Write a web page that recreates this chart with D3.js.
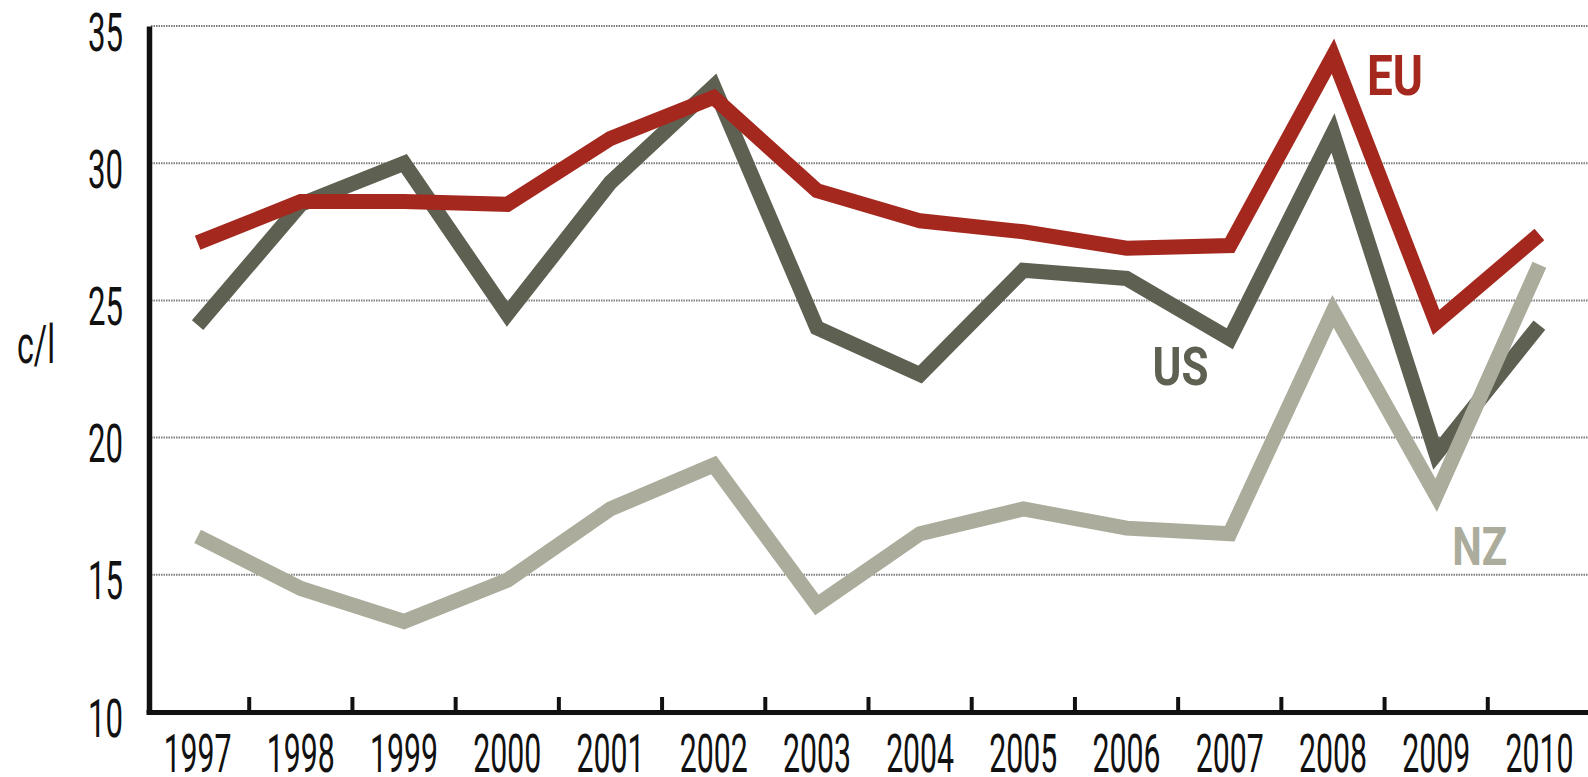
<!DOCTYPE html>
<html>
<head>
<meta charset="utf-8">
<script src="https://cdn.jsdelivr.net/npm/d3@7"></script>
<style>
  body { margin: 0; background: #fff; }
  text { font-family: Roboto, "Liberation Sans", sans-serif; }
</style>
</head>
<body>
<div id="chart"></div>
<script>
// data (c/l)
const years = [1997, 1998, 1999, 2000, 2001, 2002, 2003, 2004, 2005, 2006, 2007, 2008, 2009, 2010];
const euValues = [27.1, 28.6, 28.6, 28.5, 30.9, 32.4, 29.0, 27.9, 27.5, 26.9, 27.0, 33.9, 24.2, 27.4];
const usValues = [24.1, 28.5, 30.0, 24.5, 29.3, 32.8, 24.0, 22.3, 26.1, 25.8, 23.6, 31.1, 19.4, 24.1];
const nzValues = [16.4, 14.5, 13.3, 14.8, 17.4, 19.0, 13.9, 16.5, 17.4, 16.7, 16.5, 24.6, 17.9, 26.3];
const yTicks = [10, 15, 20, 25, 30, 35];

const width = 1588, height = 777;
const margin = {top: 26, right: -3, bottom: 65, left: 146};

const svg = d3.select("#chart")
  .append("svg")
  .attr("width", width)
  .attr("height", height);

// squeeze a text horizontally to a given width (the original uses a condensed face)
function squeeze(sel, w, tx) {
  sel.each(function() {
    const t = d3.select(this);
    const natural = this.getComputedTextLength();
    const sx = natural > 0 ? w / natural : 1;
    t.attr("transform", `translate(${tx || 0},0) scale(${sx},1)`);
  });
}

// scales
const x = d3.scaleBand()
  .domain(years)
  .range([margin.left, width - margin.right])
  .padding(0);

const y = d3.scaleLinear()
  .domain([10, 35])
  .range([height - margin.bottom, margin.top]);

// dotted gridlines
svg.append("g")
  .selectAll("line")
  .data(yTicks.filter(d => d > 10))
  .enter()
  .append("line")
  .attr("x1", margin.left + 5)
  .attr("x2", width)
  .attr("y1", d => y(d))
  .attr("y2", d => y(d))
  .attr("stroke", "#7d7d7d")
  .attr("stroke-width", 2)
  .attr("stroke-dasharray", "1.5,1");

// series, drawn back to front
const series = [
  {name: "US", values: usValues, color: "#5e6052"},
  {name: "NZ", values: nzValues, color: "#abac9b"},
  {name: "EU", values: euValues, color: "#a5281f"}
];

const line = d3.line()
  .x((d, i) => x(years[i]) + x.bandwidth() / 2)
  .y(d => y(d));

svg.append("g")
  .selectAll("path")
  .data(series)
  .enter()
  .append("path")
  .attr("d", d => line(d.values))
  .attr("fill", "none")
  .attr("stroke", d => d.color)
  .attr("stroke-width", 15)
  .attr("stroke-linejoin", "miter")
  .attr("stroke-linecap", "butt");

// x axis (labels at band centres)
const xAxis = svg.append("g")
  .attr("transform", `translate(0,${y(10)})`)
  .call(d3.axisBottom(x).tickSize(0).tickSizeOuter(0));

xAxis.select(".domain")
  .attr("stroke", "#111")
  .attr("stroke-width", 5);

xAxis.selectAll("text")
  .attr("y", 60)
  .attr("dy", null)
  .attr("fill", "#111")
  .attr("font-size", 53)
  .call(squeeze, 68);

// tick marks between the years
svg.append("g")
  .selectAll("line")
  .data(years.slice(0, -1))
  .enter()
  .append("line")
  .attr("x1", d => x(d) + x.bandwidth())
  .attr("x2", d => x(d) + x.bandwidth())
  .attr("y1", y(10))
  .attr("y2", y(10) - 15)
  .attr("stroke", "#111")
  .attr("stroke-width", 4);

// y axis
const yAxis = svg.append("g")
  .attr("transform", `translate(${margin.left + 3},0)`)
  .call(d3.axisLeft(y).tickValues(yTicks).tickSize(0).tickSizeOuter(0));

yAxis.select(".domain")
  .attr("stroke", "#111")
  .attr("stroke-width", 5.5);

yAxis.selectAll("text")
  .attr("x", 0)
  .attr("dy", 24)
  .attr("fill", "#111")
  .attr("font-size", 53)
  .call(squeeze, 35, -26);

// unit label
svg.append("text")
  .attr("x", 0)
  .attr("y", 363)
  .attr("text-anchor", "middle")
  .attr("fill", "#111")
  .attr("font-size", 53)
  .text("c/l")
  .call(squeeze, 38, 36);

// series labels, anchored near the points they name
const seriesLabels = [
  {name: "EU", year: 2008, value: 32.5, dx: 34, color: "#a5281f", size: 56, w: 56},
  {name: "US", year: 2006, value: 21.9, dx: 26, color: "#5e6052", size: 53, w: 56},
  {name: "NZ", year: 2009, value: 15.35, dx: 16, color: "#abac9b", size: 53, w: 55}
];

svg.append("g")
  .selectAll("g")
  .data(seriesLabels)
  .enter()
  .append("g")
  .attr("transform", d => `translate(${x(d.year) + x.bandwidth() / 2 + d.dx},${y(d.value)})`)
  .append("text")
  .attr("fill", d => d.color)
  .attr("font-size", d => d.size)
  .attr("font-weight", "bold")
  .text(d => d.name)
  .each(function(d) { d3.select(this).call(squeeze, d.w); });
</script>
</body>
</html>
